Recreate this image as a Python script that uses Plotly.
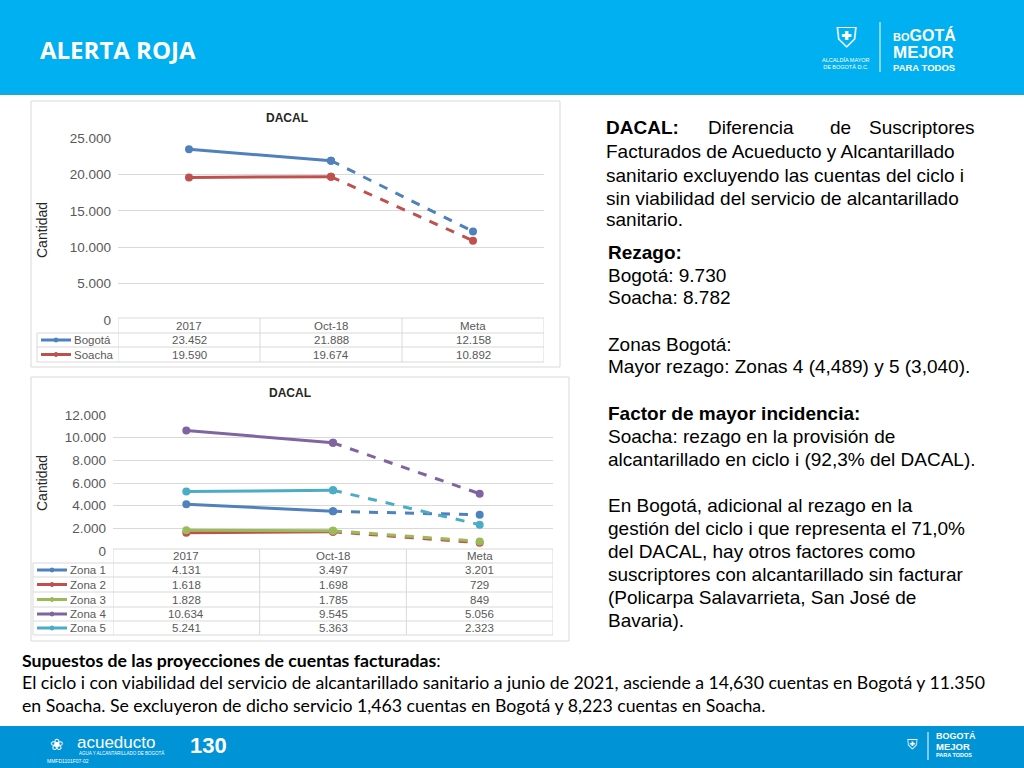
import plotly.graph_objects as go

# ---------------- data ----------------
categories = ["2017", "Oct-18", "Meta"]

top_series = ["Bogotá", "Soacha"]
bogota = [23452, 21888, 12158]
soacha = [19590, 19674, 10892]

zone_series = ["Zona 1", "Zona 2", "Zona 3", "Zona 4", "Zona 5"]
zona1 = [4131, 3497, 3201]
zona2 = [1618, 1698, 729]
zona3 = [1828, 1785, 849]
zona4 = [10634, 9545, 5056]
zona5 = [5241, 5363, 2323]

top_ticks = [0, 5000, 10000, 15000, 20000, 25000]
bottom_ticks = [0, 2000, 4000, 6000, 8000, 10000, 12000]

# ---------------- styling ----------------
W, H = 1024, 768
BLUE = "#4F81BD"
RED = "#C0504D"
GREEN = "#9BBB59"
PURPLE = "#8064A2"
AQUA = "#4BACC6"
GRID = "#D9D9D9"
TXT = "#595959"
HEAD_BLUE = "#00B0F0"
FOOT_BLUE = "#0093D6"
FONT = "Liberation Sans, Arial, sans-serif"


def px(x):
    return x / W


def py(y):
    return 1 - y / H


def fmt(v):
    return f"{v:,}".replace(",", ".")


fig = go.Figure()

top_data = [(top_series[0], bogota, BLUE), (top_series[1], soacha, RED)]
zone_data = [(zone_series[0], zona1, BLUE), (zone_series[1], zona2, RED),
             (zone_series[2], zona3, GREEN), (zone_series[3], zona4, PURPLE),
             (zone_series[4], zona5, AQUA)]


def add_series(data, xa, ya, lw):
    for name, vals, col in data:
        fig.add_trace(go.Scatter(x=categories[:2], y=vals[:2], mode="lines+markers",
                                 line=dict(color=col, width=lw),
                                 marker=dict(size=8, color=col),
                                 xaxis=xa, yaxis=ya, showlegend=False, name=name,
                                 hoverinfo="skip"))
        fig.add_trace(go.Scatter(x=categories[1:], y=vals[1:], mode="lines+markers",
                                 line=dict(color=col, width=lw, dash="dash"),
                                 marker=dict(size=8, color=col),
                                 xaxis=xa, yaxis=ya, showlegend=False, name=name,
                                 hoverinfo="skip"))


add_series(top_data, "x", "y", 3)
add_series(zone_data, "x2", "y2", 3)

# geometry (pixels)
TOP = dict(left=118, right=544, y0=320, y1=138)
BOT = dict(left=113, right=553, y0=551, y1=415)

axis_x = dict(showline=False, zeroline=False, ticks="", type="category",
              categoryarray=categories, range=[-0.5, 2.5], showticklabels=False,
              showgrid=False, automargin=False)
axis_y = dict(showline=False, zeroline=False, ticks="", tickformat=",d",
              gridcolor=GRID, gridwidth=1, ticklabelstandoff=6, automargin=False,
              tickfont=dict(family=FONT, size=13.5, color=TXT))

fig.update_layout(
    width=W, height=H,
    margin=dict(l=0, r=0, t=0, b=0, pad=0, autoexpand=False),
    paper_bgcolor="white", plot_bgcolor="rgba(0,0,0,0)",
    separators=",.", showlegend=False,
    xaxis=dict(domain=[px(TOP["left"]), px(TOP["right"])], anchor="y", **axis_x),
    yaxis=dict(domain=[py(TOP["y0"]), py(TOP["y1"])], range=[0, 25000],
               tickvals=top_ticks, anchor="x", **axis_y),
    xaxis2=dict(domain=[px(BOT["left"]), px(BOT["right"])], anchor="y2", **axis_x),
    yaxis2=dict(domain=[py(BOT["y0"]), py(BOT["y1"])], range=[0, 12000],
                tickvals=bottom_ticks, anchor="x2", **axis_y),
)

shapes = []
ann = []


def label(x, y, text, size, color="white", family=FONT, xanchor="center", **kw):
    ann.append(dict(xref="paper", yref="paper", x=px(x), y=py(y), text=text,
                    xanchor=xanchor, yanchor="middle", showarrow=False,
                    font=dict(family=family, size=size, color=color), **kw))


# header & footer bands
shapes.append(dict(type="rect", xref="paper", yref="paper", x0=0, x1=1, y0=py(93), y1=1,
                   fillcolor=HEAD_BLUE, line=dict(width=0), layer="below"))
shapes.append(dict(type="rect", xref="paper", yref="paper", x0=0, x1=1, y0=py(95), y1=py(93),
                   fillcolor="#1AA6DA", line=dict(width=0), layer="below"))
shapes.append(dict(type="rect", xref="paper", yref="paper", x0=0, x1=1, y0=0, y1=py(726),
                   fillcolor=FOOT_BLUE, line=dict(width=0), layer="below"))

# chart boxes
shapes.append(dict(type="rect", xref="paper", yref="paper", x0=px(31), x1=px(560),
                   y0=py(367), y1=py(101), line=dict(color="#D9D9D9", width=1), layer="below"))
shapes.append(dict(type="rect", xref="paper", yref="paper", x0=px(31), x1=px(569),
                   y0=py(641), y1=py(377), line=dict(color="#D9D9D9", width=1), layer="below"))


def add_table(xref, left_px, right_px, legend_left_px, rows_px, data, cfont):
    line = dict(color=GRID, width=1)
    for i, yy in enumerate(rows_px):
        x0 = left_px if i == 0 else legend_left_px
        shapes.append(dict(type="line", xref="paper", yref="paper", x0=px(x0),
                           x1=px(right_px), y0=py(yy), y1=py(yy), line=line))
    for b in [-0.5, 0.5, 1.5, 2.5]:
        shapes.append(dict(type="line", xref=xref, yref="paper", x0=b, x1=b,
                           y0=py(rows_px[-1]), y1=py(rows_px[0]), line=line))
    shapes.append(dict(type="line", xref="paper", yref="paper", x0=px(legend_left_px),
                       x1=px(legend_left_px), y0=py(rows_px[-1]), y1=py(rows_px[1]), line=line))
    hc = (rows_px[0] + rows_px[1]) / 2
    for i, c in enumerate(categories):
        ann.append(dict(xref=xref, yref="paper", x=i, y=py(hc), text=c, showarrow=False,
                        font=dict(family=FONT, size=cfont, color=TXT), xanchor="center",
                        yanchor="middle"))
    for r, (name, vals, col) in enumerate(data):
        yc = (rows_px[r + 1] + rows_px[r + 2]) / 2
        shapes.append(dict(type="line", xref="paper", yref="paper", x0=px(legend_left_px + 4),
                           x1=px(legend_left_px + 34), y0=py(yc), y1=py(yc),
                           line=dict(color=col, width=3)))
        shapes.append(dict(type="circle", xref="paper", yref="paper",
                           x0=px(legend_left_px + 17), x1=px(legend_left_px + 21),
                           y0=py(yc + 2), y1=py(yc - 2), fillcolor=col, line=dict(color=col, width=1)))
        ann.append(dict(xref="paper", yref="paper", x=px(legend_left_px + 35), y=py(yc),
                        text=name, showarrow=False, xanchor="left", yanchor="middle",
                        font=dict(family=FONT, size=cfont, color=TXT)))
        for i, v in enumerate(vals):
            ann.append(dict(xref=xref, yref="paper", x=i, y=py(yc), text=fmt(v),
                            showarrow=False, xanchor="center", yanchor="middle",
                            font=dict(family=FONT, size=cfont, color=TXT)))


add_table("x", TOP["left"], TOP["right"], 37, [318, 333, 347, 362], top_data, 11.5)
add_table("x2", BOT["left"], BOT["right"], 33, [549, 563, 577, 592, 607, 621, 635], zone_data, 11.5)

# chart titles and axis titles
label(287, 118, "<b>DACAL</b>", 12, color="#262626")
label(290, 393, "<b>DACAL</b>", 12, color="#262626")
for yy in [230, 483]:
    label(42, yy, "Cantidad", 14, color="#262626",
          family="Liberation Sans Narrow, Liberation Sans, sans-serif", textangle=-90)

# header title
label(38, 50, "<b>ALERTA ROJA</b>", 24, family="Open Sans, sans-serif", xanchor="left")

# header logo (text approximation)
label(846, 38, "⛨", 28, family="DejaVu Sans")
label(846, 63, "ALCALDÍA MAYOR<br>DE BOGOTÁ D.C.", 5.5)
shapes.append(dict(type="line", xref="paper", yref="paper", x0=px(880), x1=px(880),
                   y0=py(72), y1=py(22), line=dict(color="white", width=1)))
label(891, 35, "<b><span style='font-size:11px'>BO</span>GOTÁ</b>", 16, xanchor="left")
label(891, 52, "<b>MEJOR</b>", 17, xanchor="left")
label(891, 67, "<b>PARA TODOS</b>", 9.5, xanchor="left")

# footer logos (text approximations)
label(48, 744, "❀", 16, family="DejaVu Sans", xanchor="left")
label(75, 742, "acueducto", 17, xanchor="left")
label(77, 753, "AGUA Y ALCANTARILLADO DE BOGOTÁ", 4.5, xanchor="left")
label(45, 761, "MMFD1101F07-02", 5, xanchor="left")
label(208, 745, "<b>130</b>", 22)
label(912, 744, "⛨", 14, family="DejaVu Sans")
shapes.append(dict(type="line", xref="paper", yref="paper", x0=px(928), x1=px(928),
                   y0=py(760), y1=py(732), line=dict(color="white", width=1)))
label(934, 736, "<b>BOGOTÁ</b>", 9, xanchor="left")
label(934, 746, "<b>MEJOR</b>", 9.5, xanchor="left")
label(934, 755, "<b>PARA TODOS</b>", 5.5, xanchor="left")

# right text block
RS = 19
for word, x, anc in [("<b>DACAL:</b>", 604, "left"), ("Diferencia", 706, "left"),
                     ("de", 840, "center"), ("Suscriptores", 977, "right")]:
    label(x, 128, word, RS, color="black", xanchor=anc)
right_lines = [
    (152, "Facturados de Acueducto y Alcantarillado"),
    (175, "sanitario excluyendo las cuentas del ciclo i"),
    (198, "sin viabilidad del servicio de alcantarillado"),
    (220, "sanitario."),
]
for yy, t in right_lines:
    label(604, yy, t, RS, color="black", xanchor="left")

block = [
    (252, "<b>Rezago:</b>"),
    (275, "Bogotá: 9.730"),
    (298, "Soacha: 8.782"),
    (344, "Zonas Bogotá:"),
    (367, "Mayor rezago: Zonas 4 (4,489) y 5 (3,040)."),
    (413, "<b>Factor de mayor incidencia:</b>"),
    (436, "Soacha: rezago en la provisión de"),
    (459, "alcantarillado en ciclo i (92,3% del DACAL)."),
    (505, "En Bogotá, adicional al rezago en la"),
    (528, "gestión del ciclo i que representa el 71,0%"),
    (551, "del DACAL, hay otros factores como"),
    (574, "suscriptores con alcantarillado sin facturar"),
    (597, "(Policarpa Salavarrieta, San José de"),
    (620, "Bavaria)."),
]
for yy, t in block:
    label(606, yy, t, RS, color="black", xanchor="left")

# bottom note
BF = "Lato, sans-serif"
label(20, 660, "<b>Supuestos de las proyecciones de cuentas facturadas</b>:", 17.7,
      color="black", family=BF, xanchor="left")
label(20, 682, "El ciclo i con viabilidad del servicio de alcantarillado sanitario a junio de 2021, asciende a 14,630 cuentas en Bogotá y 11.350",
      17.7, color="black", family=BF, xanchor="left")
label(20, 705, "en Soacha. Se excluyeron de dicho servicio 1,463 cuentas en Bogotá y 8,223 cuentas en Soacha.",
      17.7, color="black", family=BF, xanchor="left")

fig.update_layout(shapes=shapes, annotations=ann)

post = ("document.documentElement.style.margin='0';document.documentElement.style.padding='0';"
        "document.documentElement.style.overflow='hidden';"
        "document.body.style.margin='0';document.body.style.padding='0';"
        "document.body.style.overflow='hidden';"
        "var d=document.getElementById('{plot_id}');"
        "d.style.position='fixed';d.style.left='0px';d.style.top='0px';"
        "d.style.margin='0';")

fig.write_html("out.html", post_script=post, config={"displayModeBar": False})
